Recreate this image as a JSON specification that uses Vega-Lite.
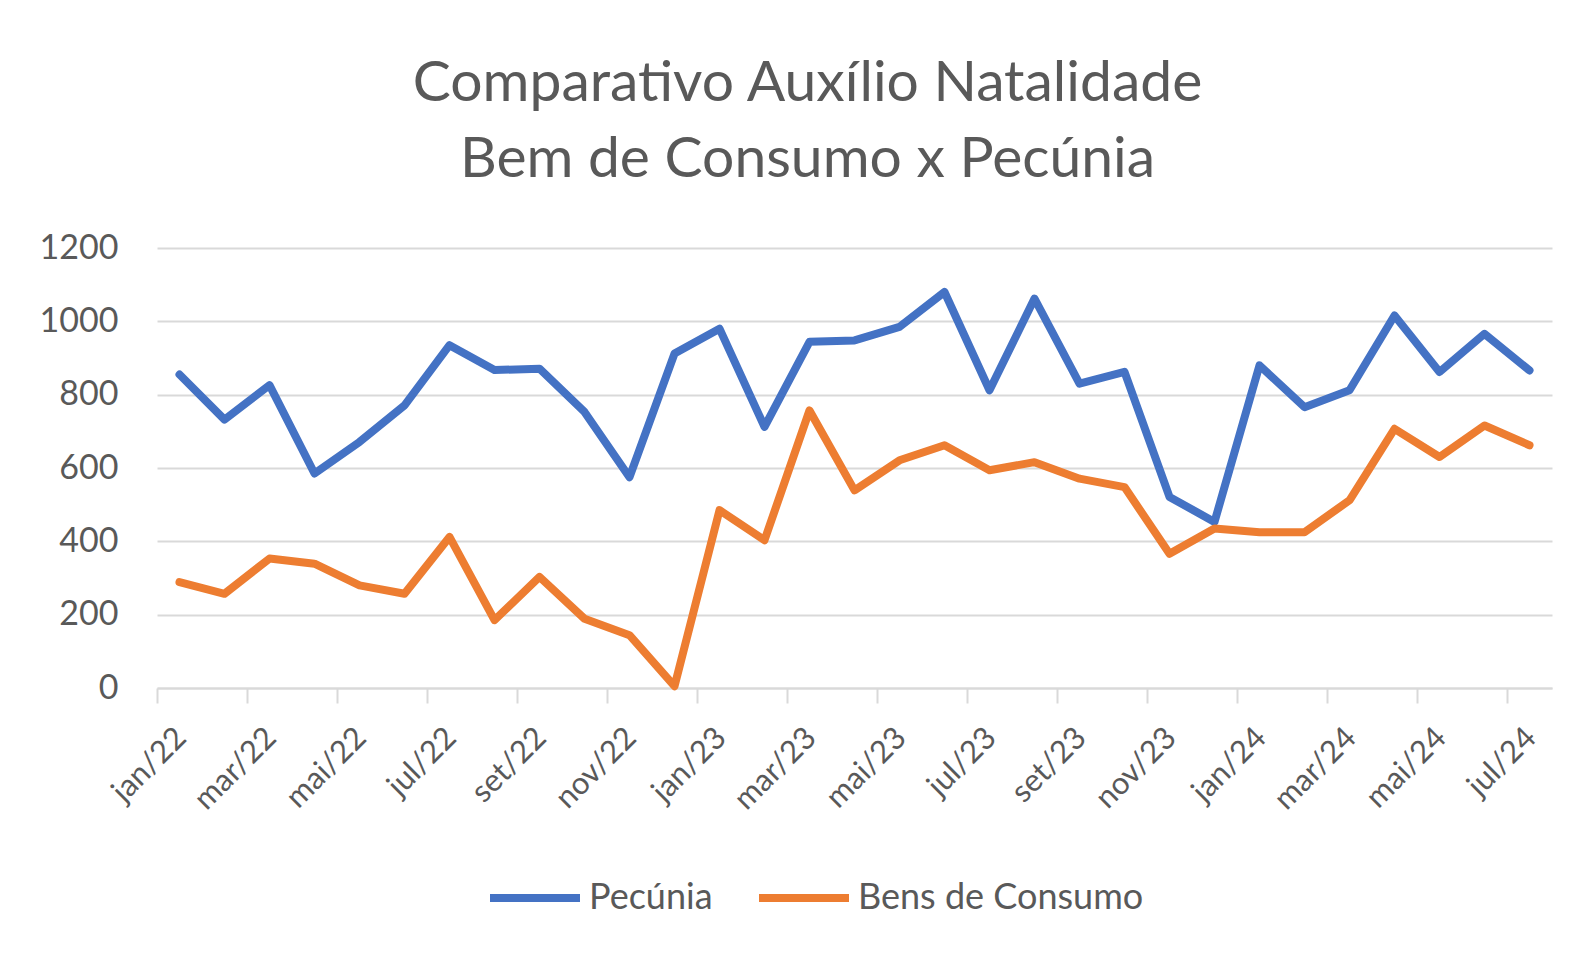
{
  "$schema": "https://vega.github.io/schema/vega-lite/v6.json",
  "width": 1395,
  "height": 440,
  "autosize": {"type": "none"},
  "padding": {"left": 157, "top": 248, "right": 43, "bottom": 272},
  "background": "#ffffff",
  "title": {
    "text": ["Comparativo Auxílio Natalidade", "Bem de Consumo x Pecúnia"],
    "font": "Lato",
    "fontSize": 57,
    "fontWeight": "normal",
    "color": "#595959",
    "lineHeight": 76,
    "anchor": "middle",
    "frame": "group",
    "dx": -47,
    "offset": 42
  },
  "config": {
    "view": {"stroke": null},
    "font": "Lato"
  },
  "data": {
    "values": [
      {"mes": "jan/22", "serie": "Pecúnia", "valor": 855},
      {"mes": "fev/22", "serie": "Pecúnia", "valor": 732},
      {"mes": "mar/22", "serie": "Pecúnia", "valor": 826},
      {"mes": "abr/22", "serie": "Pecúnia", "valor": 585},
      {"mes": "mai/22", "serie": "Pecúnia", "valor": 671},
      {"mes": "jun/22", "serie": "Pecúnia", "valor": 771},
      {"mes": "jul/22", "serie": "Pecúnia", "valor": 935},
      {"mes": "ago/22", "serie": "Pecúnia", "valor": 867},
      {"mes": "set/22", "serie": "Pecúnia", "valor": 871},
      {"mes": "out/22", "serie": "Pecúnia", "valor": 753},
      {"mes": "nov/22", "serie": "Pecúnia", "valor": 575},
      {"mes": "dez/22", "serie": "Pecúnia", "valor": 912},
      {"mes": "jan/23", "serie": "Pecúnia", "valor": 980},
      {"mes": "fev/23", "serie": "Pecúnia", "valor": 712},
      {"mes": "mar/23", "serie": "Pecúnia", "valor": 944},
      {"mes": "abr/23", "serie": "Pecúnia", "valor": 948},
      {"mes": "mai/23", "serie": "Pecúnia", "valor": 985},
      {"mes": "jun/23", "serie": "Pecúnia", "valor": 1080},
      {"mes": "jul/23", "serie": "Pecúnia", "valor": 812},
      {"mes": "ago/23", "serie": "Pecúnia", "valor": 1062},
      {"mes": "set/23", "serie": "Pecúnia", "valor": 830},
      {"mes": "out/23", "serie": "Pecúnia", "valor": 862},
      {"mes": "nov/23", "serie": "Pecúnia", "valor": 521},
      {"mes": "dez/23", "serie": "Pecúnia", "valor": 453},
      {"mes": "jan/24", "serie": "Pecúnia", "valor": 880},
      {"mes": "fev/24", "serie": "Pecúnia", "valor": 766},
      {"mes": "mar/24", "serie": "Pecúnia", "valor": 812},
      {"mes": "abr/24", "serie": "Pecúnia", "valor": 1016},
      {"mes": "mai/24", "serie": "Pecúnia", "valor": 862},
      {"mes": "jun/24", "serie": "Pecúnia", "valor": 966},
      {"mes": "jul/24", "serie": "Pecúnia", "valor": 866},
      {"mes": "jan/22", "serie": "Bens de Consumo", "valor": 289},
      {"mes": "fev/22", "serie": "Bens de Consumo", "valor": 257},
      {"mes": "mar/22", "serie": "Bens de Consumo", "valor": 353},
      {"mes": "abr/22", "serie": "Bens de Consumo", "valor": 339},
      {"mes": "mai/22", "serie": "Bens de Consumo", "valor": 280},
      {"mes": "jun/22", "serie": "Bens de Consumo", "valor": 257},
      {"mes": "jul/22", "serie": "Bens de Consumo", "valor": 412},
      {"mes": "ago/22", "serie": "Bens de Consumo", "valor": 185},
      {"mes": "set/22", "serie": "Bens de Consumo", "valor": 303},
      {"mes": "out/22", "serie": "Bens de Consumo", "valor": 189},
      {"mes": "nov/22", "serie": "Bens de Consumo", "valor": 144},
      {"mes": "dez/22", "serie": "Bens de Consumo", "valor": 5},
      {"mes": "jan/23", "serie": "Bens de Consumo", "valor": 485},
      {"mes": "fev/23", "serie": "Bens de Consumo", "valor": 403},
      {"mes": "mar/23", "serie": "Bens de Consumo", "valor": 757},
      {"mes": "abr/23", "serie": "Bens de Consumo", "valor": 539},
      {"mes": "mai/23", "serie": "Bens de Consumo", "valor": 621},
      {"mes": "jun/23", "serie": "Bens de Consumo", "valor": 662},
      {"mes": "jul/23", "serie": "Bens de Consumo", "valor": 594},
      {"mes": "ago/23", "serie": "Bens de Consumo", "valor": 616},
      {"mes": "set/23", "serie": "Bens de Consumo", "valor": 571},
      {"mes": "out/23", "serie": "Bens de Consumo", "valor": 548},
      {"mes": "nov/23", "serie": "Bens de Consumo", "valor": 366},
      {"mes": "dez/23", "serie": "Bens de Consumo", "valor": 435},
      {"mes": "jan/24", "serie": "Bens de Consumo", "valor": 425},
      {"mes": "fev/24", "serie": "Bens de Consumo", "valor": 425},
      {"mes": "mar/24", "serie": "Bens de Consumo", "valor": 512},
      {"mes": "abr/24", "serie": "Bens de Consumo", "valor": 707},
      {"mes": "mai/24", "serie": "Bens de Consumo", "valor": 630},
      {"mes": "jun/24", "serie": "Bens de Consumo", "valor": 716},
      {"mes": "jul/24", "serie": "Bens de Consumo", "valor": 662}
    ]
  },
  "mark": {"type": "line", "strokeWidth": 8, "strokeJoin": "round", "strokeCap": "round"},
  "encoding": {
    "x": {
      "field": "mes",
      "type": "ordinal",
      "sort": null,
      "scale": {"type": "point", "padding": 0.5},
      "axis": {
        "title": null,
        "values": ["jan/22", "mar/22", "mai/22", "jul/22", "set/22", "nov/22", "jan/23", "mar/23", "mai/23", "jul/23", "set/23", "nov/23", "jan/24", "mar/24", "mai/24", "jul/24"],
        "grid": false,
        "domainColor": "#d9d9d9",
        "domainWidth": 2,
        "tickColor": "#d9d9d9",
        "tickWidth": 2,
        "tickSize": 15,
        "tickOffset": -22.5,
        "labelOffset": 24,
        "labelAngle": -45,
        "labelAlign": "right",
        "labelBaseline": "middle",
        "labelPadding": 30,
        "labelFont": "Lato",
        "labelFontSize": 31,
        "labelColor": "#595959",
        "labelOverlap": false
      }
    },
    "y": {
      "field": "valor",
      "type": "quantitative",
      "scale": {"domain": [0, 1200], "nice": false},
      "axis": {
        "title": null,
        "values": [0, 200, 400, 600, 800, 1000, 1200],
        "format": "d",
        "domain": false,
        "ticks": false,
        "tickSize": 0,
        "gridColor": "#d9d9d9",
        "gridWidth": 2,
        "labelPadding": 39,
        "labelFont": "Lato",
        "labelFontSize": 34,
        "labelColor": "#595959"
      }
    },
    "color": {
      "field": "serie",
      "type": "nominal",
      "sort": ["Pecúnia", "Bens de Consumo"],
      "scale": {"domain": ["Pecúnia", "Bens de Consumo"], "range": ["#4472C4", "#ED7D31"]},
      "legend": {
        "title": null,
        "orient": "none",
        "direction": "horizontal",
        "legendX": 329,
        "legendY": 601,
        "symbolType": "stroke",
        "symbolSize": 8100,
        "symbolStrokeWidth": 8,
        "labelFont": "Lato",
        "labelFontSize": 36,
        "labelColor": "#595959",
        "labelOffset": 5,
        "columnPadding": 30,
        "labelLimit": 400
      }
    }
  }
}
